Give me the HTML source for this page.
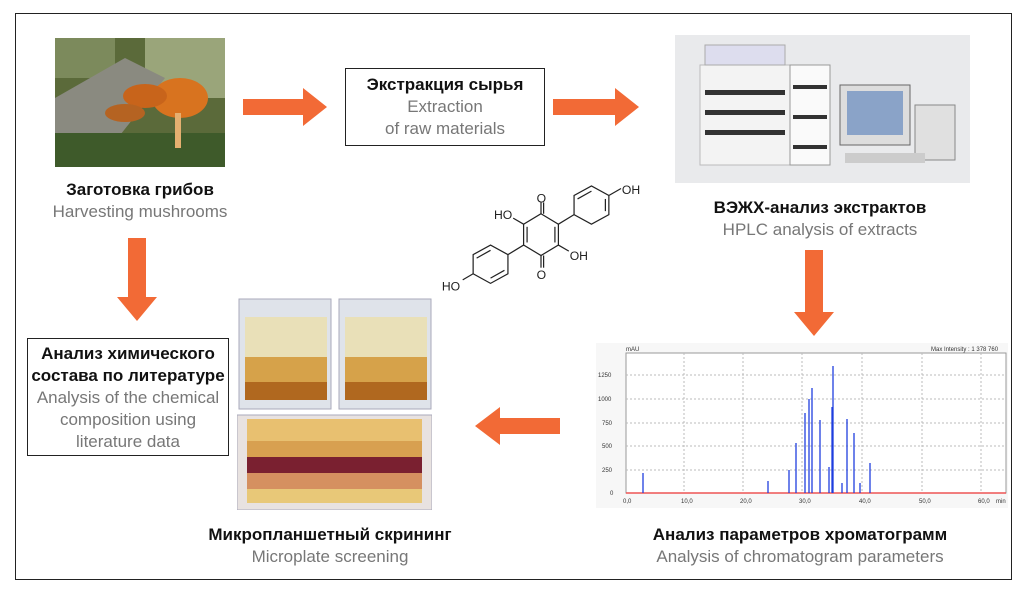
<!DOCTYPE html>
<html><head><meta charset="utf-8"><style>
body{margin:0;width:1028px;height:597px;background:#fff;position:relative;font-family:"Liberation Sans",sans-serif;overflow:hidden}
.a{position:absolute}
.t{position:absolute;text-align:center;font-size:17px;line-height:22px}
.t b{color:#111;font-weight:bold}
.t span{color:#777}
</style></head><body>
<div class="a" style="left:15px;top:13px;width:995px;height:565px;border:1.5px solid #222"></div>

<svg class="a" style="left:55px;top:38px" width="170" height="129">
<rect width="170" height="129" fill="#5b6a3a"/>
<rect x="90" y="0" width="80" height="60" fill="#9aa57a"/>
<rect x="0" y="0" width="60" height="40" fill="#7c8a5c"/>
<polygon points="0,60 70,20 110,40 40,129 0,129" fill="#8a8a80"/>
<rect x="0" y="95" width="170" height="34" fill="#3e5a2a"/>
<ellipse cx="125" cy="60" rx="28" ry="20" fill="#d8731f"/>
<ellipse cx="90" cy="58" rx="22" ry="12" fill="#c8641b"/>
<ellipse cx="70" cy="75" rx="20" ry="9" fill="#b56322"/>
<rect x="120" y="75" width="6" height="35" fill="#e5b070"/>
</svg>
<div class="t" style="left:30px;top:179px;width:220px"><b>Заготовка грибов</b><br><span>Harvesting mushrooms</span></div>

<svg class="a" style="left:0;top:0" width="1028" height="597">
<g fill="#f26a36">
<polygon points="243,99 303,99 303,88 327,107 303,126 303,115 243,115"/>
<polygon points="553,99 615,99 615,88 639,107 615,126 615,115 553,115"/>
<polygon points="805,250 823,250 823,312 834,312 814,336 794,312 805,312"/>
<polygon points="128,238 146,238 146,297 157,297 137,321 117,297 128,297"/>
<polygon points="560,418 500,418 500,407 475,426 500,445 500,434 560,434"/>
</g>
</svg>

<div class="a" style="left:345px;top:68px;width:198px;height:76px;border:1.5px solid #222"></div>
<div class="t" style="left:335px;top:74px;width:220px"><b>Экстракция сырья</b><br><span>Extraction<br>of raw materials</span></div>

<svg class="a" style="left:675px;top:35px" width="295" height="148">
<rect width="295" height="148" fill="#e9eaec"/>
<rect x="25" y="30" width="130" height="100" fill="#f3f3f3" stroke="#bbb"/>
<rect x="115" y="30" width="40" height="100" fill="#fafafa" stroke="#999"/>
<g fill="#333"><rect x="30" y="55" width="80" height="5"/><rect x="30" y="75" width="80" height="5"/><rect x="30" y="95" width="80" height="5"/><rect x="118" y="50" width="34" height="4"/><rect x="118" y="80" width="34" height="4"/><rect x="118" y="110" width="34" height="4"/></g>
<rect x="30" y="10" width="80" height="20" fill="#dde" stroke="#aaa"/>
<rect x="165" y="50" width="70" height="60" fill="#ddd" stroke="#666"/>
<rect x="172" y="56" width="56" height="44" fill="#8aa3c8"/>
<rect x="240" y="70" width="40" height="55" fill="#e0e0e0" stroke="#888"/>
<rect x="170" y="118" width="80" height="10" fill="#ccc"/>
</svg>
<div class="t" style="left:690px;top:197px;width:260px"><b>ВЭЖХ-анализ экстрактов</b><br><span>HPLC analysis of extracts</span></div>

<svg class="a" style="left:440px;top:170px" width="215" height="140" font-family="Liberation Sans" font-size="14">
<g transform="translate(14,22) scale(0.87)">
<g stroke="#222" stroke-width="1.4" fill="none">
<polygon points="100,25 120,37 120,61 100,73 80,61 80,37"/>
<line x1="84" y1="40" x2="84" y2="58"/><line x1="116" y1="40" x2="116" y2="58"/>
<line x1="100" y1="25" x2="100" y2="12"/><line x1="103" y1="25" x2="103" y2="12"/>
<line x1="100" y1="73" x2="100" y2="87"/><line x1="103" y1="73" x2="103" y2="87"/>
<line x1="80" y1="37" x2="68" y2="30"/><line x1="120" y1="61" x2="132" y2="68"/>
<line x1="120" y1="37" x2="138" y2="26"/>
<polygon points="138,26 138,4 158,-7 178,4 178,26 158,37"/>
<line x1="142" y1="8" x2="158" y2="-1"/><line x1="174" y1="8" x2="174" y2="22"/>
<line x1="178" y1="4" x2="192" y2="-4"/>
<line x1="80" y1="61" x2="62" y2="72"/>
<polygon points="62,72 62,94 42,105 22,94 22,72 42,61"/>
<line x1="26" y1="76" x2="42" y2="67"/><line x1="58" y1="90" x2="42" y2="99"/>
<line x1="22" y1="94" x2="10" y2="101"/>
</g>
<text x="95" y="12" fill="#222">O</text><text x="95" y="100" fill="#222">O</text>
<text x="46" y="31" fill="#222">HO</text><text x="133" y="78" fill="#222">OH</text>
<text x="193" y="2" fill="#222">OH</text><text x="-14" y="113" fill="#222">HO</text>
</g>
</svg>

<svg class="a" style="left:237px;top:297px" width="195" height="213">
<rect width="195" height="213" fill="#fff"/>
<rect x="2" y="2" width="92" height="110" fill="#dfe3ea" stroke="#aab"/>
<rect x="102" y="2" width="92" height="110" fill="#dfe3ea" stroke="#aab"/>
<rect x="0" y="118" width="195" height="95" fill="#e8e2e0" stroke="#aab"/>
<g fill="#e9e0b8"><rect x="8" y="20" width="82" height="40"/><rect x="108" y="20" width="82" height="40"/></g>
<g fill="#d6a24a"><rect x="8" y="60" width="82" height="25"/><rect x="108" y="60" width="82" height="25"/></g>
<g fill="#b0681f"><rect x="8" y="85" width="82" height="18"/><rect x="108" y="85" width="82" height="18"/></g>
<rect x="10" y="122" width="175" height="22" fill="#e8c070"/>
<rect x="10" y="144" width="175" height="16" fill="#d8a050"/>
<rect x="10" y="160" width="175" height="16" fill="#7a2030"/>
<rect x="10" y="176" width="175" height="16" fill="#d59060"/>
<rect x="10" y="192" width="175" height="14" fill="#e8c878"/>
</svg>
<div class="t" style="left:190px;top:524px;width:280px"><b>Микропланшетный скрининг</b><br><span>Microplate screening</span></div>

<div class="a" style="left:27px;top:338px;width:200px;height:116px;border:1.5px solid #222"></div>
<div class="t" style="left:17px;top:343px;width:222px;line-height:22px"><b>Анализ химического<br>состава по литературе</b><br><span>Analysis of the chemical<br>composition using<br>literature data</span></div>

<svg class="a" style="left:596px;top:343px" width="412" height="165" font-family="Liberation Sans" font-size="6" fill="#333">
<rect width="412" height="165" fill="#f7f7f7"/>
<rect x="30" y="10" width="380" height="140" fill="#fff" stroke="#999"/>
<g stroke="#bbb" stroke-dasharray="2,2">
<line x1="30" y1="32" x2="410" y2="32"/><line x1="30" y1="56" x2="410" y2="56"/><line x1="30" y1="80" x2="410" y2="80"/><line x1="30" y1="103" x2="410" y2="103"/><line x1="30" y1="127" x2="410" y2="127"/>
<line x1="88" y1="10" x2="88" y2="150"/><line x1="147" y1="10" x2="147" y2="150"/><line x1="206" y1="10" x2="206" y2="150"/><line x1="266" y1="10" x2="266" y2="150"/><line x1="326" y1="10" x2="326" y2="150"/><line x1="385" y1="10" x2="385" y2="150"/>
</g>
<line x1="30" y1="150" x2="410" y2="150" stroke="#e55" stroke-width="1.5"/>
<g stroke="#1f3fdf" stroke-width="1.3">
<line x1="47" y1="150" x2="47" y2="130"/><line x1="172" y1="150" x2="172" y2="138"/><line x1="193" y1="150" x2="193" y2="127"/>
<line x1="200" y1="150" x2="200" y2="100"/><line x1="209" y1="150" x2="209" y2="70"/><line x1="213" y1="150" x2="213" y2="56"/>
<line x1="216" y1="150" x2="216" y2="45"/><line x1="224" y1="150" x2="224" y2="77"/><line x1="233" y1="150" x2="233" y2="124"/>
<line x1="236" y1="150" x2="236" y2="64"/><line x1="237" y1="150" x2="237" y2="23"/><line x1="251" y1="150" x2="251" y2="76"/>
<line x1="246" y1="150" x2="246" y2="140"/><line x1="258" y1="150" x2="258" y2="90"/><line x1="264" y1="150" x2="264" y2="140"/>
<line x1="274" y1="150" x2="274" y2="120"/>
</g>
<text x="30" y="8">mAU</text><text x="335" y="8">Max Intensity : 1 378 760</text>
<text x="2" y="34">1250</text><text x="2" y="58">1000</text><text x="6" y="82">750</text><text x="6" y="105">500</text><text x="6" y="129">250</text><text x="14" y="152">0</text>
<text x="27" y="160">0,0</text><text x="85" y="160">10,0</text><text x="144" y="160">20,0</text><text x="203" y="160">30,0</text><text x="263" y="160">40,0</text><text x="323" y="160">50,0</text><text x="382" y="160">60,0</text><text x="400" y="160">min</text>
</svg>
<div class="t" style="left:600px;top:524px;width:400px"><b>Анализ параметров хроматограмм</b><br><span>Analysis of chromatogram parameters</span></div>
</body></html>
